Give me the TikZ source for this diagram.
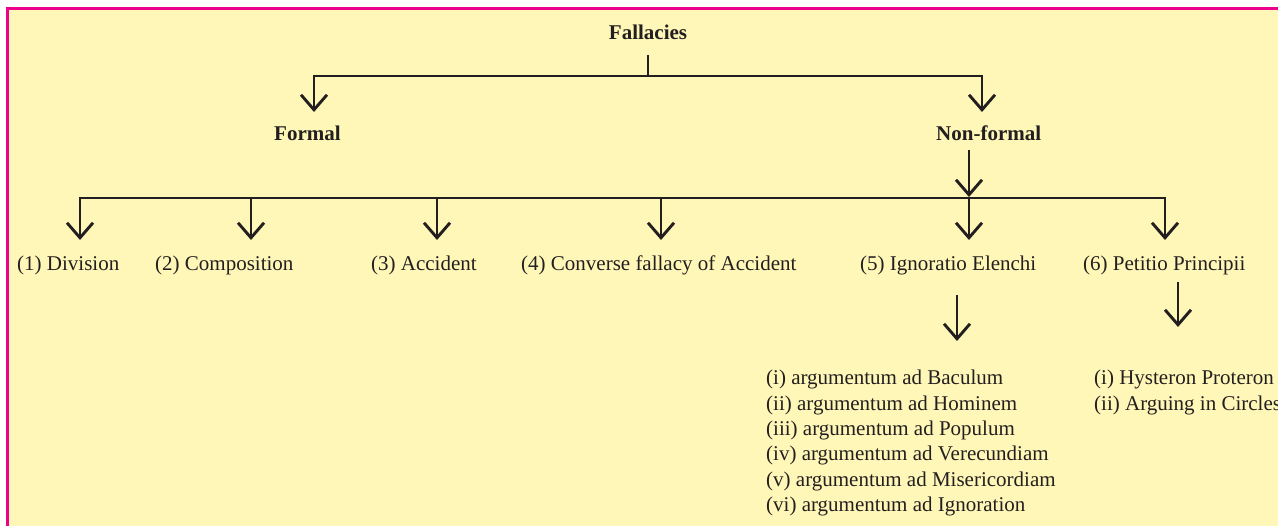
\documentclass[tikz,border=0pt]{standalone}
\usepackage{fontspec}
\setmainfont{Liberation Serif}
\usetikzlibrary{arrows.meta}
\definecolor{bgyellow}{RGB}{255,247,183}
\definecolor{borderpink}{RGB}{236,0,140}
\definecolor{ink}{RGB}{35,31,32}
\tikzset{
  txt/.style={inner sep=0pt, text=ink, font=\fontsize{21}{25}\selectfont, anchor=base west},
  boldtxt/.style={txt, font=\fontsize{21}{25}\selectfont\bfseries},
  ln/.style={draw=ink, line width=2.9pt},
  arr/.style={ln, -{Straight Barb[length=15pt,width=26pt]}},
  arrboth/.style={ln, {Straight Barb[length=15pt,width=26pt]}-{Straight Barb[length=15pt,width=26pt]}}
}
\begin{document}
\begin{tikzpicture}[x=1pt,y=-1pt]
\useasboundingbox (0,0) rectangle (1278,526);
\fill[white] (0,0) rectangle (1278,526);
\fill[bgyellow] (5.5,7) rectangle (1278,526);
\fill[borderpink] (5.5,7) rectangle (1278,10);
\fill[borderpink] (5.5,7) rectangle (8.5,526);

% top level
\node[boldtxt, anchor=base] (fall) at (648,40) {Fallacies};
\node[boldtxt] (formal) at (274,141) {Formal};
\node[boldtxt] (nonformal) at (936,141) {Non-formal};

\coordinate (fstem) at (648,55);
\coordinate (fjoin) at (648,76);
\coordinate (formaltip) at (314,112);
\coordinate (nfcorner) at (982,76);
\coordinate (nftip) at (982,112);
\draw[ln] (fstem) -- (fjoin);
\draw[arrboth] (formaltip) |- (nfcorner) -- (nftip);

\coordinate (nfstem) at (969,150);
\coordinate (nfjoin) at (969,197);
\draw[arr] (nfstem) -- (nfjoin);

% second level
\node[txt] (div) at (17,271) {(1) Division};
\node[txt] (comp) at (155,271) {(2) Composition};
\node[txt] (acc) at (371,271) {(3) Accident};
\node[txt] (conv) at (521,271) {(4) Converse fallacy of Accident};
\node[txt] (ign) at (860,271) {(5) Ignoratio Elenchi};
\node[txt] (pet) at (1083,271) {(6) Petitio Principii};

\coordinate (t1) at (80,240);
\coordinate (b6) at (1165,198);
\coordinate (t6) at (1165,240);
\draw[arrboth] (t1) |- (b6) -- (t6);
\coordinate (b2) at (251,198);  \coordinate (t2) at (251,240);
\coordinate (b3) at (437,198);  \coordinate (t3) at (437,240);
\coordinate (b4) at (661,198);  \coordinate (t4) at (661,240);
\coordinate (b5) at (969,198);  \coordinate (t5) at (969,240);
\draw[arr] (b2) -- (t2);
\draw[arr] (b3) -- (t3);
\draw[arr] (b4) -- (t4);
\draw[arr] (b5) -- (t5);

% third level arrows
\coordinate (ignfrom) at (957,295);
\coordinate (ignto) at (957,341);
\draw[arr] (ignfrom) -- (ignto);
\coordinate (petfrom) at (1178,282);
\coordinate (petto) at (1178,327);
\draw[arr] (petfrom) -- (petto);

% sub lists
\node[txt] (ia) at (766,385) {(i) argumentum ad Baculum};
\node[txt] (ib) at (766,410.5) {(ii) argumentum ad Hominem};
\node[txt] (ic) at (766,436) {(iii) argumentum ad Populum};
\node[txt] (id) at (766,461) {(iv) argumentum ad Verecundiam};
\node[txt] (ie) at (766,487) {(v) argumentum ad Misericordiam};
\node[txt] (if) at (766,512) {(vi) argumentum ad Ignoration};

\node[txt] (pa) at (1094,385) {(i) Hysteron Proteron};
\node[txt] (pb) at (1094,410.5) {(ii) Arguing in Circles};
\end{tikzpicture}
\end{document}
